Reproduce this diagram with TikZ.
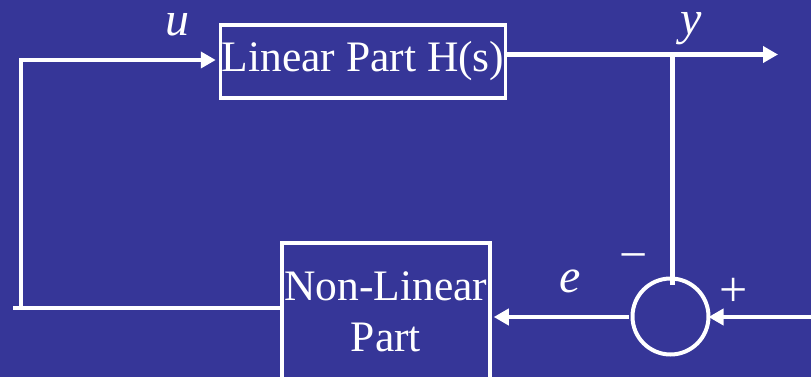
\documentclass[tikz,border=0pt]{standalone}
\usepackage{fontspec}
\setmainfont{Liberation Serif}
\usetikzlibrary{arrows.meta}
\definecolor{bgblue}{RGB}{54,54,152}
\begin{document}
\begin{tikzpicture}[x=1pt,y=-1pt,
  blk/.style={draw=white,line width=3.5pt,inner sep=0pt,text=white,
    font=\fontsize{43.5}{51}\selectfont,align=center},
  wire/.style={draw=white,line width=4.5pt},
  arr/.style={wire,-{Triangle[length=15pt,width=16pt]}},
  lbl/.style={text=white,inner sep=0pt,font=\fontsize{48}{50}\selectfont\itshape},
  sgn/.style={text=white,inner sep=0pt,font=\fontsize{50}{52}\selectfont}]
\fill[bgblue] (0,0) rectangle (811,377);
\useasboundingbox (0,0) rectangle (811,377);
\node[blk,minimum width=285pt,minimum height=73pt] (lin) at (363,61.5) {Linear Part H(s)};
\node[blk,minimum width=208pt,minimum height=137pt] (nl) at (386,311.5) {Non-Linear\\Part};
\node[draw=white,line width=4pt,circle,minimum size=76pt,inner sep=0pt] (sum) at (670.5,316.5) {};
\coordinate (ul) at (21,60);
\coordinate (fc) at (21,308);
\coordinate (fl) at (13,308);
\coordinate (yo) at (778,54.5);
\coordinate (br) at (672.5,54.5);
\coordinate (bre) at (672.5,285);
\coordinate (rin) at (811,317);
\draw[arr] (fc) -- (ul) -- ([xshift=-3pt]lin.west |- ul);
\draw[wire] (fl) -- ([xshift=2pt]nl.west |- fl);
\draw[arr] (lin.east |- yo) -- (yo);
\draw[wire] (br) -- (bre);
\draw[arr] (rin) -- ([xshift=-2pt]sum.east |- rin);
\draw[arr] ([xshift=-2pt]sum.west |- rin) -- ([xshift=2pt]nl.east |- rin);
\node[lbl] (lu) at (177,25) {u};
\node[lbl] (ly) at (691,29) {y};
\node[lbl] (le) at (570,281) {e};
\node[sgn] (lm) at (634,263) {−};
\node[sgn] (lp) at (734,292) {+};
\end{tikzpicture}
\end{document}
